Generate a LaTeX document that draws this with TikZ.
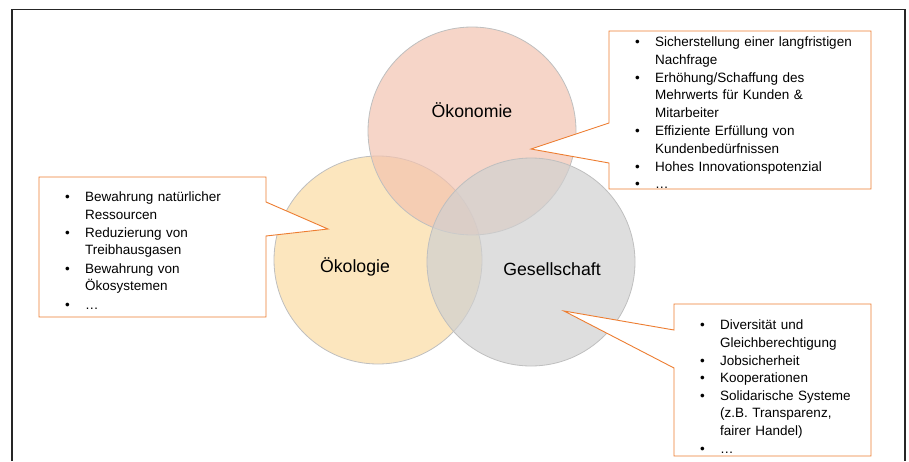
\documentclass[tikz,border=0pt]{standalone}
\usepackage{fontspec}
\setmainfont{Liberation Sans}
\usepackage{tikz}
\usetikzlibrary{calc,positioning}

\definecolor{orangeLinie}{RGB}{237,125,49}
\definecolor{oekonomieFill}{RGB}{242,195,176}
\definecolor{oekologieFill}{RGB}{251,219,162}
\definecolor{gesellFill}{RGB}{208,208,208}

\newcommand{\punkt}[1]{\par\lineskiplimit=-5pt\noindent\makebox[20pt][l]{\textbullet}\begin{tabular}[t]{@{}l@{}}#1\end{tabular}}

\tikzset{
  kreis/.style = {circle, minimum size=208pt, inner sep=0pt, draw=black!25, line width=0.8pt, fill opacity=0.7},
  kreistext/.style = {font=\fontsize{17.7}{20}\selectfont, inner sep=0pt},
  liste/.style = {anchor=north west, inner sep=0pt, text width=240pt, font=\fontsize{13.5}{17.4}\selectfont},
  sprechblase/.style = {draw=orangeLinie, fill=white, line width=0.9pt, line join=miter},
  rahmen/.style = {draw=black!85, line width=1.5pt}
}

\begin{document}
\begin{tikzpicture}[x=1pt,y=-1pt]
  \useasboundingbox (0,0) rectangle (909,461);
  % Rahmen, unten offen
  \draw[rahmen] (12,461) -- (12,9.5) -- (905,9.5) -- (905,461);

  % die drei Kreise
  \node[kreis, fill=oekologieFill] (kreisOekol) at (378,260) {};
  \node[kreis, fill=oekonomieFill] (kreisOekon) at (472,131) {};
  \node[kreis, fill=gesellFill] (kreisGes) at (531,262) {};

  \node[kreistext] (txtOekon) at (472,110) {Ökonomie};
  \node[kreistext] (txtOekol) at (355,267) {Ökologie};
  \node[kreistext] (txtGes) at (552,269) {Gesellschaft};

  % Spitzen der Sprechblasen
  \coordinate (spitzeOekon) at (531,149);
  \coordinate (spitzeOekol) at (328,229);
  \coordinate (spitzeGes) at (564,311);

  % Sprechblase Oekonomie
  \draw[sprechblase] (609,31) -- (871,31) -- (871,189) -- (609,189) -- (609,163)
    -- (spitzeOekon) -- (609,123) -- cycle;
  \node[liste] (listeOekon) at (635,29) {%
    \punkt{Sicherstellung einer langfristigen\\Nachfrage}
    \punkt{Erhöhung/Schaffung des\\Mehrwerts für Kunden \&\\Mitarbeiter}
    \punkt{Effiziente Erfüllung von\\Kundenbedürfnissen}
    \punkt{Hohes Innovationspotenzial}
    \punkt{\dots}};

  % Sprechblase Oekologie
  \draw[sprechblase] (39,177) -- (266,177) -- (266,202) -- (spitzeOekol)
    -- (266,236) -- (266,317) -- (39,317) -- cycle;
  \node[liste] (listeOekol) at (65,184) {%
    \punkt{Bewahrung natürlicher\\Ressourcen}
    \punkt{Reduzierung von\\Treibhausgasen}
    \punkt{Bewahrung von\\Ökosystemen}
    \punkt{\dots}};

  % Sprechblase Gesellschaft
  \draw[sprechblase] (674,304) -- (871,304) -- (871,456) -- (674,456) -- (674,368)
    -- (spitzeGes) -- (674,330) -- cycle;
  \node[liste] (listeGes) at (700,312) {%
    \punkt{Diversität und\\Gleichberechtigung}
    \punkt{Jobsicherheit}
    \punkt{Kooperationen}
    \punkt{Solidarische Systeme\\(z.B. Transparenz,\\fairer Handel)}
    \punkt{\dots}};
\end{tikzpicture}
\end{document}
